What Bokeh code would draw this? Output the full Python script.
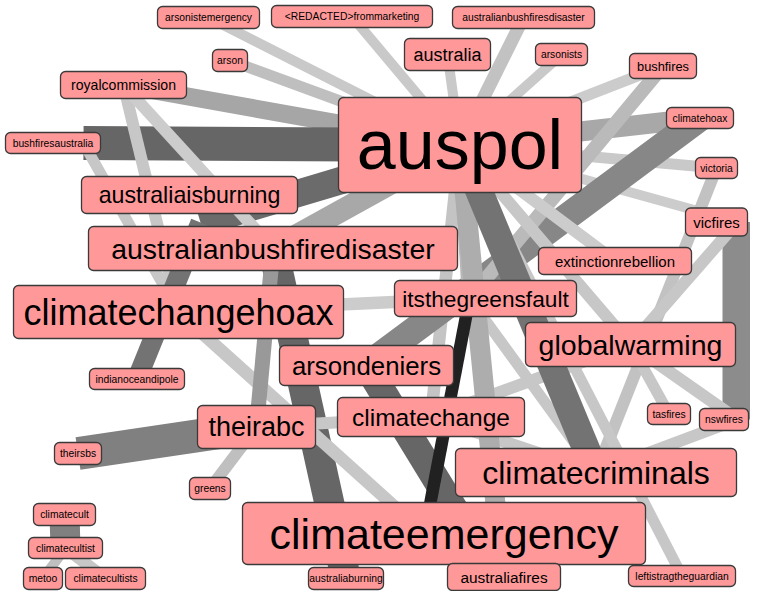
from bokeh.plotting import figure
from bokeh.models import ColumnDataSource, Range1d
from bokeh.core.properties import value
from bokeh.embed import file_html
from bokeh.resources import INLINE

# ---------------- data ----------------
node_names = [
    "auspol", "climateemergency", "climatechangehoax", "climatecriminals",
    "australianbushfiredisaster", "globalwarming", "theirabc", "arsondeniers",
    "climatechange", "australiaisburning", "itsthegreensfault", "australia",
    "australiafires", "vicfires", "extinctionrebellion", "royalcommission",
    "bushfires", "arsonistemergency", "<REDACTED>frommarketing",
    "australianbushfiresdisaster", "arson", "arsonists", "bushfiresaustralia",
    "climatehoax", "victoria", "indianoceandipole", "tasfires", "nswfires",
    "theirsbs", "greens", "climatecult", "climatecultist", "metoo",
    "climatecultists", "australiaburning", "leftistragtheguardian",
]
# label font size (px) reflects how often the hashtag occurs
node_font = [
    70, 43, 36, 32, 28.4, 28.5, 27, 25.8, 24.5, 23.2, 22.7, 18,
    15.4, 15, 15, 14.1, 12.8, 10.3, 10.3, 10.3, 10.3, 10.3, 10.3,
    10.3, 10.3, 10.3, 10.3, 10.3, 10.3, 10.3, 10.3, 10.3, 10.3,
    10.3, 10.3, 10.3,
]

edge_from = [
    "arsonistemergency", "<REDACTED>frommarketing", "arson", "royalcommission",
    "bushfiresaustralia", "australia", "australianbushfiresdisaster", "arsonists",
    "bushfires", "climatehoax", "victoria", "vicfires",
    "auspol", "auspol", "auspol",
    "climatehoax", "bushfires", "victoria", "vicfires",
    "royalcommission", "royalcommission", "bushfiresaustralia",
    "theirsbs", "greens", "climatecult", "climatecultist", "climatecultist",
    "australianbushfiredisaster", "australiaisburning", "arsondeniers",
    "itsthegreensfault", "theirabc", "nswfires", "globalwarming",
    "auspol", "auspol", "auspol", "leftistragtheguardian", "tasfires",
    "climatechange", "globalwarming", "auspol",
    "climatechangehoax", "climatechangehoax", "australianbushfiredisaster",
    "auspol", "vicfires", "itsthegreensfault",
]
edge_to = [
    "auspol", "auspol", "auspol", "auspol",
    "auspol", "auspol", "auspol", "auspol",
    "auspol", "auspol", "auspol", "auspol",
    "australianbushfiredisaster", "climatechange", "australiaisburning",
    "arsondeniers", "itsthegreensfault", "climatecriminals", "nswfires",
    "climatechangehoax", "australianbushfiredisaster", "climatechangehoax",
    "theirabc", "theirabc", "climatecultist", "metoo", "climatecultists",
    "australiaburning", "indianoceandipole", "australiafires",
    "climatecriminals", "climatechange", "climatecriminals", "nswfires",
    "extinctionrebellion", "globalwarming", "itsthegreensfault", "auspol", "globalwarming",
    "climatecriminals", "climatechange", "australiafires",
    "itsthegreensfault", "climateemergency", "theirabc",
    "climatecriminals", "globalwarming", "climateemergency",
]
edge_weight = [
    4, 4, 4.4, 7.2,
    13.6, 4, 5.2, 4,
    4.4, 8, 4.4, 4,
    9, 5, 11,
    10.8, 5.6, 4.8, 12,
    4.8, 4.8, 4.4,
    13.2, 4.8, 12, 4, 4.8,
    12, 8, 11,
    4.4, 4.8, 4.8, 4.8,
    4.8, 4.8, 6, 4.4, 4.4,
    4.8, 4.8, 8,
    5, 5, 6,
    11, 4.8, 5,
]
edge_shade = [
    0.79, 0.79, 0.75, 0.65,
    0.40, 0.79, 0.76, 0.79,
    0.80, 0.66, 0.79, 0.80,
    0.66, 0.77, 0.42,
    0.53, 0.73, 0.76, 0.55,
    0.78, 0.80, 0.78,
    0.50, 0.75, 0.50, 0.75, 0.78,
    0.40, 0.45, 0.40,
    0.78, 0.78, 0.78, 0.78,
    0.80, 0.78, 0.72, 0.78, 0.78,
    0.78, 0.78, 0.68,
    0.80, 0.78, 0.60,
    0.45, 0.78, 0.13,
]

# ---------------- layout (label centre x, y and box size, in pixels) ----------------
layout = {
    "auspol": (459.5, 144.5, 243, 95),
    "climateemergency": (443.5, 533, 403, 62),
    "climatechangehoax": (178, 311.5, 330, 53),
    "climatecriminals": (595.5, 472, 281, 48),
    "australianbushfiredisaster": (272.5, 248, 369, 44),
    "globalwarming": (630, 344, 210, 44),
    "theirabc": (256, 426.5, 118, 43),
    "arsondeniers": (366, 365, 174, 40),
    "climatechange": (430.5, 416.5, 187, 39),
    "australiaisburning": (189, 194.5, 216, 37),
    "itsthegreensfault": (485, 298, 182, 36),
    "australia": (447, 54, 86, 32),
    "australiafires": (503.5, 576.5, 113, 27),
    "vicfires": (716, 221.5, 62, 28),
    "extinctionrebellion": (614.5, 260.5, 153, 27),
    "royalcommission": (123, 84.5, 126, 27),
    "bushfires": (662.5, 65.5, 67, 25),
    "arsonistemergency": (208, 17, 102, 22),
    "<REDACTED>frommarketing": (351.5, 16, 161, 22),
    "australianbushfiresdisaster": (523, 17, 142, 22),
    "arson": (229.5, 60, 35, 22),
    "arsonists": (561, 54, 52, 22),
    "bushfiresaustralia": (52.5, 142.5, 95, 21),
    "climatehoax": (699.5, 117.5, 67, 21),
    "victoria": (716, 167.5, 42, 21),
    "indianoceandipole": (136.5, 378.5, 95, 21),
    "tasfires": (668.5, 413.5, 43, 21),
    "nswfires": (723.5, 419, 49, 22),
    "theirsbs": (77.5, 453, 47, 22),
    "greens": (209.5, 488, 41, 22),
    "climatecult": (64, 514, 62, 22),
    "climatecultist": (65, 547.5, 74, 21),
    "metoo": (42.5, 578, 39, 22),
    "climatecultists": (105, 578, 80, 22),
    "australiaburning": (345.5, 578, 75, 22),
    "leftistragtheguardian": (681.5, 575.5, 107, 21),
}
# where a node's edges meet, when its label has been pushed away from it
node_point = {
    "bushfiresaustralia": (83, 142.5),
    "australiaisburning": (200, 222),
    "itsthegreensfault": (469, 298),
    "climateemergency": (424, 533),
    "vicfires": (737, 221.5),
    "nswfires": (737, 419),
    "australiafires": (503.5, 590),
}


def pt(n):
    if n in node_point:
        return node_point[n]
    return layout[n][0], layout[n][1]


W, H = 750, 591
p = figure(width=W, height=H, output_backend="svg", toolbar_location=None,
           x_range=Range1d(0, W), y_range=Range1d(H, 0),
           min_border=0)
p.axis.visible = False
p.grid.visible = False
p.outline_line_color = None
p.background_fill_color = "white"
p.border_fill_color = "white"


def gray(s):
    v = int(round(255 * s))
    return "#%02x%02x%02x" % (v, v, v)


esrc = ColumnDataSource(dict(
    x0=[pt(a)[0] for a in edge_from],
    y0=[pt(a)[1] for a in edge_from],
    x1=[pt(b)[0] for b in edge_to],
    y1=[pt(b)[1] for b in edge_to],
    lw=[2.5 * w for w in edge_weight],
    col=[gray(s) for s in edge_shade],
))
p.segment("x0", "y0", "x1", "y1", source=esrc, line_width="lw",
          line_color="col", line_cap="butt")

nsrc = ColumnDataSource(dict(
    name=node_names,
    x=[layout[n][0] for n in node_names],
    y=[layout[n][1] for n in node_names],
    left=[layout[n][0] - layout[n][2] / 2 for n in node_names],
    right=[layout[n][0] + layout[n][2] / 2 for n in node_names],
    top=[layout[n][1] - layout[n][3] / 2 for n in node_names],
    bottom=[layout[n][1] + layout[n][3] / 2 for n in node_names],
    fs=["%.1fpx" % f for f in node_font],
))
p.quad(left="left", right="right", top="top", bottom="bottom", source=nsrc,
       fill_color="#ff9999", line_color="#3a3a3a", line_width=1.3,
       border_radius=5)
p.text(x="x", y="y", text="name", source=nsrc, text_font_size="fs",
       text_align="center", text_baseline="middle", text_color="black",
       text_font=value("Liberation Sans"))

open("out.html", "w").write(file_html(p, INLINE))
